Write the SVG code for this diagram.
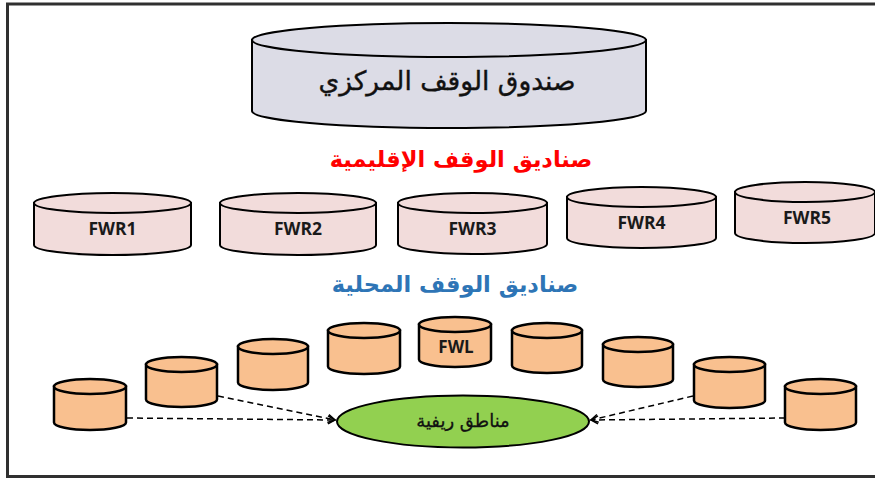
<svg xmlns="http://www.w3.org/2000/svg" width="875" height="479" viewBox="0 0 875 479">
  <style>
    .frame { fill: none; stroke: #303030; stroke-width: 3; }
    .cyl { stroke: #000; stroke-width: 2; }
    .central { fill: #dcdce6; }
    .regional { fill: #f2dcdb; }
    .local { fill: #f9c08f; stroke-width: 2.5; }
    .rural { fill: #92d050; stroke: #000; stroke-width: 2; }
    .ar { font-family: "DejaVu Sans", "Noto Sans", sans-serif; text-anchor: middle; }
    .lat { font-family: "Open Sans", "Liberation Sans", sans-serif; font-weight: bold; text-anchor: middle; fill: #1a1a1a; }
    .link { fill: none; stroke: #000; stroke-width: 1.5; stroke-dasharray: 6 4; marker-end: url(#openArrow); }
  </style>
  <defs>
    <marker id="openArrow" markerWidth="10" markerHeight="10" refX="8" refY="5" orient="auto" markerUnits="userSpaceOnUse">
      <path d="M1,1 L8,5 L1,9" fill="none" stroke="#000" stroke-width="1.5"/>
    </marker>
  </defs>

  <rect x="0" y="0" width="875" height="479" fill="#fff"/>
  <rect class="frame" x="7.5" y="4" width="900" height="472.5"/>

  <!-- central fund -->
  <g id="central-fund">
    <path class="cyl central" d="M252,40 L252,111 A197,17 0 0 0 646,111 L646,40 Z"/>
    <ellipse class="cyl central" cx="449" cy="40" rx="197" ry="17"/>
    <text class="ar" x="447" y="90" font-size="26.5" fill="#111" stroke="#111" stroke-width="0.4">صندوق الوقف المركزي</text>
  </g>

  <g id="regional-title">
    <text class="ar" x="461" y="167" font-size="22.5" font-weight="bold" fill="#ff0000">صناديق الوقف الإقليمية</text>
  </g>

  <!-- regional funds -->
  <g id="fwr1">
    <path class="cyl regional" d="M34,203 L34,245 A78.5,10 0 0 0 191,245 L191,203 Z"/>
    <ellipse class="cyl regional" cx="112.5" cy="203" rx="78.5" ry="10"/>
    <text class="lat" x="112.5" y="235" font-size="17.5">FWR1</text>
  </g>
  <g id="fwr2">
    <path class="cyl regional" d="M220,203 L220,245 A78,10 0 0 0 376,245 L376,203 Z"/>
    <ellipse class="cyl regional" cx="298" cy="203" rx="78" ry="10"/>
    <text class="lat" x="298" y="235" font-size="17.5">FWR2</text>
  </g>
  <g id="fwr3">
    <path class="cyl regional" d="M398,203 L398,244 A74.5,10 0 0 0 547,244 L547,203 Z"/>
    <ellipse class="cyl regional" cx="472.5" cy="203" rx="74.5" ry="10"/>
    <text class="lat" x="472.5" y="235" font-size="17.5">FWR3</text>
  </g>
  <g id="fwr4">
    <path class="cyl regional" d="M567,197 L567,238 A74.5,10 0 0 0 716,238 L716,197 Z"/>
    <ellipse class="cyl regional" cx="641.5" cy="197" rx="74.5" ry="10"/>
    <text class="lat" x="641.5" y="229" font-size="17.5">FWR4</text>
  </g>
  <g id="fwr5">
    <path class="cyl regional" d="M735,192 L735,233 A70,10 0 0 0 875,233 L875,192 Z"/>
    <ellipse class="cyl regional" cx="805" cy="192" rx="70" ry="10"/>
    <text class="lat" x="807" y="224" font-size="17.5">FWR5</text>
  </g>

  <g id="local-title">
    <text class="ar" x="455" y="292" font-size="22.5" font-weight="bold" fill="#2e75b6">صناديق الوقف المحلية</text>
  </g>

  <!-- local funds -->
  <g id="local-1">
    <path class="cyl local" d="M54,386.5 L54,422.5 A36,7.5 0 0 0 126,422.5 L126,386.5 Z"/>
    <ellipse class="cyl local" cx="90" cy="386.5" rx="36" ry="7.5"/>
  </g>
  <g id="local-2">
    <path class="cyl local" d="M146,364.5 L146,399.5 A35.5,7.5 0 0 0 217,399.5 L217,364.5 Z"/>
    <ellipse class="cyl local" cx="181.5" cy="364.5" rx="35.5" ry="7.5"/>
  </g>
  <g id="local-3">
    <path class="cyl local" d="M238,346.5 L238,382.5 A35,7.5 0 0 0 308,382.5 L308,346.5 Z"/>
    <ellipse class="cyl local" cx="273" cy="346.5" rx="35" ry="7.5"/>
  </g>
  <g id="local-4">
    <path class="cyl local" d="M328,330.5 L328,366.5 A36,7.5 0 0 0 400,366.5 L400,330.5 Z"/>
    <ellipse class="cyl local" cx="364" cy="330.5" rx="36" ry="7.5"/>
  </g>
  <g id="local-fwl">
    <path class="cyl local" d="M419,324.5 L419,359.5 A36,7.5 0 0 0 491,359.5 L491,324.5 Z"/>
    <ellipse class="cyl local" cx="455" cy="324.5" rx="36" ry="7.5"/>
    <text class="lat" x="456" y="353" font-size="17">FWL</text>
  </g>
  <g id="local-6">
    <path class="cyl local" d="M512,330.5 L512,365.5 A35,7.5 0 0 0 582,365.5 L582,330.5 Z"/>
    <ellipse class="cyl local" cx="547" cy="330.5" rx="35" ry="7.5"/>
  </g>
  <g id="local-7">
    <path class="cyl local" d="M603,344.5 L603,379.5 A35,7.5 0 0 0 673,379.5 L673,344.5 Z"/>
    <ellipse class="cyl local" cx="638" cy="344.5" rx="35" ry="7.5"/>
  </g>
  <g id="local-8">
    <path class="cyl local" d="M694,364.5 L694,400.5 A35.5,7.5 0 0 0 765,400.5 L765,364.5 Z"/>
    <ellipse class="cyl local" cx="729.5" cy="364.5" rx="35.5" ry="7.5"/>
  </g>
  <g id="local-9">
    <path class="cyl local" d="M785,386.5 L785,422.5 A35.5,7.5 0 0 0 856,422.5 L856,386.5 Z"/>
    <ellipse class="cyl local" cx="820.5" cy="386.5" rx="35.5" ry="7.5"/>
  </g>

  <!-- rural areas -->
  <g id="rural-areas">
    <ellipse class="rural" cx="463" cy="421.5" rx="126" ry="26"/>
    <text class="ar" x="463" y="427" font-size="18" fill="#111" stroke="#111" stroke-width="0.3">مناطق ريفية</text>
  </g>

  <g id="connectors">
    <path class="link" d="M127,418 L335,420"/>
    <path class="link" d="M218,396 L335,420"/>
    <path class="link" d="M693,396 L591,420"/>
    <path class="link" d="M785,418 L591,420"/>
  </g>
</svg>
